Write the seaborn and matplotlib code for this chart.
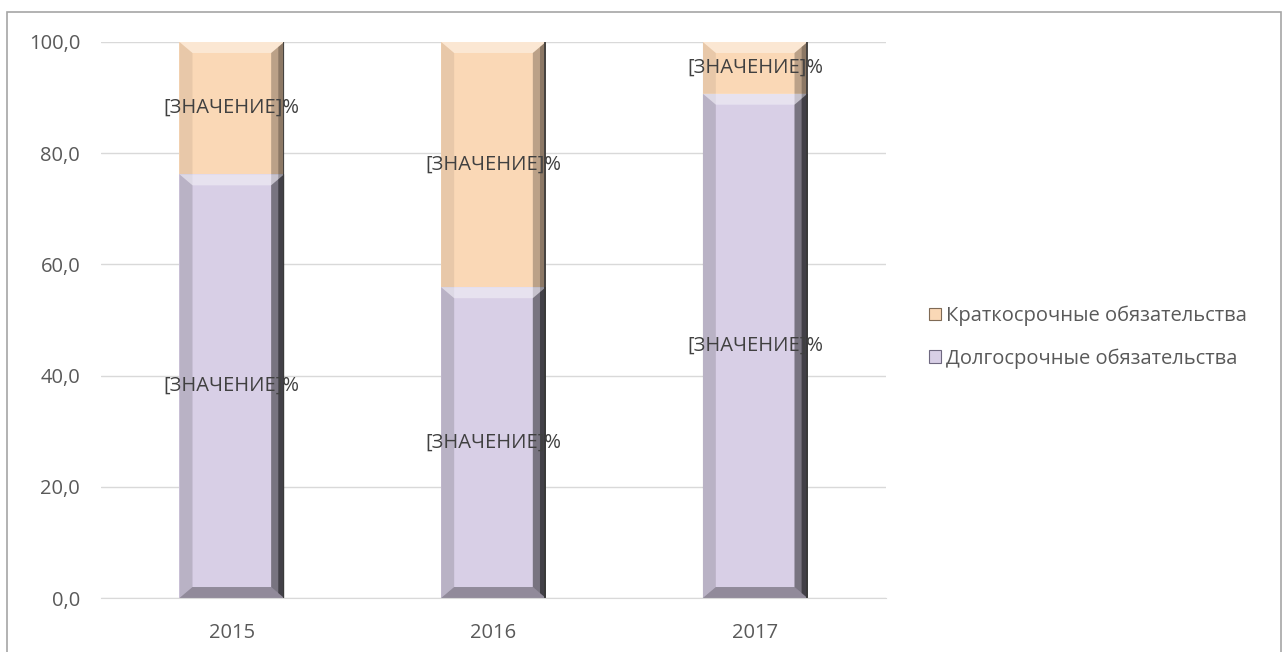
import pandas as pd
import seaborn as sns
import matplotlib.pyplot as plt
from matplotlib.patches import Polygon, Rectangle

years = ["2015", "2016", "2017"]
long_term = [76.2, 55.9, 90.7]
short_term = [23.8, 44.1, 9.3]
series_names = ["Краткосрочные обязательства", "Долгосрочные обязательства"]
label_text = "[ЗНАЧЕНИЕ]%"
y_ticks = [0, 20, 40, 60, 80, 100]

colors = {"short": "#FAD8B6", "long": "#D8CFE6"}

df = pd.DataFrame({"Год": years, "long": long_term,
                   "total": [a + b for a, b in zip(long_term, short_term)]})

sns.set_style("white")
plt.rcParams["font.family"] = ["Open Sans", "DejaVu Sans"]

fig = plt.figure(figsize=(12.88, 6.52), dpi=100)
ax = fig.add_axes([0.0784, 0.0828, 0.6095, 0.8528])

# stacked: draw total first (short-term on top), then long-term over it
sns.barplot(data=df, x="Год", y="total", color=colors["short"], width=0.4,
            saturation=1, ax=ax, linewidth=0)
sns.barplot(data=df, x="Год", y="long", color=colors["long"], width=0.4,
            saturation=1, ax=ax, linewidth=0)

ax.set_ylim(0, 100)
ax.set_xlim(-0.5, 2.5)
ax.set_yticks(y_ticks)
ax.set_yticklabels([f"{v:.1f}".replace(".", ",") for v in y_ticks])
ax.yaxis.grid(True, color="#D9D9D9", linewidth=1)
ax.set_axisbelow(True)
for s in ["left", "right", "top"]:
    ax.spines[s].set_visible(False)
ax.spines["bottom"].set_color("#D9D9D9")
ax.tick_params(axis="both", length=0, labelsize=14.5, colors="#595959")
ax.tick_params(axis="y", pad=15)
ax.tick_params(axis="x", pad=18)
ax.set_xlabel("")
ax.set_ylabel("")

fig.canvas.draw()
inv = ax.transData.inverted()


def bevel(patch):
    x0, y0 = patch.get_x(), patch.get_y()
    w, h = patch.get_width(), patch.get_height()
    x1, y1 = x0 + w, y0 + h
    p0 = ax.transData.transform((0, 0))
    q = inv.transform(p0 + [13, 11])
    bx, by = q[0], min(q[1], h / 2)
    z = patch.get_zorder()
    shades = [
        ([(x0, y1), (x1, y1), (x1 - bx, y1 - by), (x0 + bx, y1 - by)], "white", 0.4),
        ([(x0, y0), (x1, y0), (x1 - bx, y0 + by), (x0 + bx, y0 + by)], "black", 0.18),
        ([(x1, y0), (x1, y1), (x1 - bx, y1 - by), (x1 - bx, y0 + by)], "black", 0.25),
        ([(x0, y0), (x0, y1), (x0 + bx, y1 - by), (x0 + bx, y0 + by)], "black", 0.07),
    ]
    for pts, c, a in shades:
        ax.add_patch(Polygon(pts, closed=True, facecolor=c, alpha=a,
                             edgecolor="none", zorder=z + 0.1))
    # darker inner strip on the right side
    ax.add_patch(Polygon([(x1, y0), (x1, y1), (x1 - bx * 0.45, y1 - by * 0.45),
                          (x1 - bx * 0.45, y0 + by * 0.45)],
                         facecolor="black", alpha=0.25, edgecolor="none", zorder=z + 0.15))
    ax.add_patch(Rectangle((x1 - bx * 0.12, y0), bx * 0.12, h,
                           facecolor="#3A3A3A", alpha=0.85, edgecolor="none", zorder=z + 0.2))


for container in ax.containers:
    for bar in container:
        bevel(bar)

# labels at the middle of each segment
for i, yr in enumerate(years):
    ax.text(i, long_term[i] / 2, label_text, ha="center", va="center",
            fontsize=14.5, color="#404040", zorder=10)
    ax.text(i, long_term[i] + short_term[i] / 2, label_text, ha="center", va="center",
            fontsize=14.5, color="#404040", zorder=10)

handles = [Rectangle((0, 0), 1, 1, facecolor=colors["short"], edgecolor="#7F6A55", linewidth=0.8),
           Rectangle((0, 0), 1, 1, facecolor=colors["long"], edgecolor="#6E6880", linewidth=0.8)]
fig.legend(handles, series_names, loc="center left", bbox_to_anchor=(0.707, 0.483),
           frameon=False, fontsize=14.5, labelcolor="#595959", handlelength=0.6,
           handleheight=0.6, handletextpad=0.25, labelspacing=1.1)

# outer chart frame
fig.patches.append(Rectangle((7 / 1288, -0.05), 1274 / 1288, 1 - 12 / 652 + 0.05,
                             transform=fig.transFigure, fill=False,
                             edgecolor="#A6A6A6", linewidth=1.2))

plt.savefig("out.png", dpi=100)
